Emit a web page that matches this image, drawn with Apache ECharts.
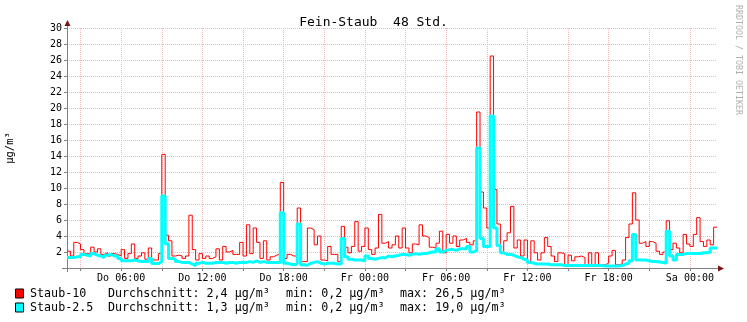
<!DOCTYPE html>
<html><head><meta charset="utf-8">
<script src="https://cdn.jsdelivr.net/npm/echarts@6/dist/echarts.min.js"></script>
<style>html,body{margin:0;padding:0;background:#fff}#c{width:747px;height:322px}</style>
</head><body><div id="c"></div>
<script>
// time axis: Do 02:00 .. Sa 02:00, 15 minute steps
const startHour = 2;
const stepMinutes = 15;
const dayNames = ['Do', 'Fr', 'Sa'];
const tickLabels = ['Do 06:00','Do 12:00','Do 18:00','Fr 00:00','Fr 06:00','Fr 12:00','Fr 18:00','Sa 00:00'];

// Staub-10 (µg/m³), one value per 15 minutes
const staub10 = [
  2.1,1.5,3.2,3.0,2.3,1.8,1.8,2.6,2.0,2.4,1.7,1.9,
  1.5,1.8,1.7,1.5,2.3,1.2,1.8,3.0,1.2,1.5,1.9,1.1,
  2.5,1.0,1.0,1.8,14.2,4.1,3.4,1.5,1.6,1.5,1.2,1.5,
  6.6,2.3,1.0,1.8,1.2,1.5,1.2,1.4,2.4,1.0,2.7,2.0,
  2.2,1.7,1.7,3.2,1.5,5.4,1.8,5.0,3.2,1.2,3.4,1.0,
  1.4,1.6,1.8,10.7,1.2,1.7,1.5,1.5,7.5,0.8,0.8,5.0,
  4.8,2.9,4.0,1.0,0.9,2.7,1.7,1.7,0.8,5.2,2.6,1.9,
  2.7,5.8,2.1,2.7,5.0,2.3,1.7,2.5,6.7,3.1,3.3,2.5,
  2.9,4.0,2.5,5.0,2.5,1.9,3.0,2.9,5.4,4.0,3.8,2.6,
  2.5,3.1,4.6,1.9,4.2,3.1,4.0,2.7,3.5,3.7,3.2,2.9,
  3.4,19.5,9.5,7.5,5.0,26.5,9.8,5.5,1.9,3.4,4.4,7.7,
  2.5,3.5,1.5,3.5,0.7,3.4,1.9,1.0,1.9,3.8,2.7,1.5,
  0.8,1.9,1.8,0.4,1.6,0.9,1.4,1.5,1.3,0.4,1.9,0.4,
  1.9,0.4,0.4,0.6,1.5,2.2,0.4,0.5,1.0,3.8,5.5,9.4,
  6.0,3.1,3.3,2.7,3.3,3.1,2.1,1.7,2.0,5.9,2.3,3.1,
  2.5,1.9,4.2,3.0,2.7,4.2,6.3,3.3,2.7,3.5,2.9,5.1,
  5.1
];
// Staub-2.5 (µg/m³)
const staub25 = [
  1.3,1.3,1.4,1.4,1.7,1.6,1.5,1.8,1.6,1.5,1.3,1.6,
  1.7,1.5,1.5,1.2,0.9,0.9,0.9,1.0,0.9,0.8,0.8,0.8,
  1.2,0.55,0.55,0.8,9.0,3.0,1.2,1.1,0.8,0.7,0.7,0.7,
  0.5,0.3,0.6,0.7,0.6,0.6,0.6,0.7,0.7,0.7,0.6,0.7,
  0.7,0.6,0.7,0.7,0.7,0.8,0.7,0.9,0.7,0.8,0.7,0.7,
  0.7,0.7,0.7,6.9,0.6,0.5,0.4,0.5,5.5,0.4,0.35,0.6,
  0.7,0.8,0.6,0.5,0.6,0.6,0.6,0.5,0.5,3.7,1.4,1.1,
  1.0,1.0,1.0,0.9,1.5,1.2,1.1,1.2,1.3,1.25,1.5,1.4,
  1.5,1.6,1.7,1.7,1.6,1.7,1.8,1.7,1.8,1.8,1.9,2.0,
  2.0,2.4,2.0,2.2,2.3,2.3,2.2,2.4,2.4,2.4,2.7,2.0,
  2.2,15.0,3.7,2.7,2.7,19.0,5.0,2.8,1.9,1.7,1.7,1.6,
  1.4,1.3,1.1,1.0,0.7,0.6,0.5,0.5,0.5,0.5,0.4,0.4,
  0.4,0.4,0.3,0.3,0.3,0.3,0.3,0.3,0.3,0.3,0.3,0.3,
  0.3,0.3,0.25,0.25,0.25,0.25,0.25,0.3,0.5,0.6,0.9,4.2,
  1.0,1.0,1.0,0.9,0.8,0.8,0.75,0.7,0.6,4.6,1.5,1.0,
  1.7,1.7,1.8,1.8,1.8,1.8,1.8,1.9,1.9,2.0,2.5,2.5,
  2.5
];

const legendNames = ['Staub-10', 'Staub-2.5'];
const legendColors = ['#ff0000', '#00ffff'];
const avgText = ['2,4', '1,3'];
const minText = ['0,2', '0,2'];
const maxText = ['26,5', '19,0'];

const categories = staub10.map((_, i) => {
  const m = startHour * 60 + i * stepMinutes;
  const d = Math.floor(m / 1440);
  const hh = Math.floor((m % 1440) / 60), mm = m % 60;
  return dayNames[d] + ' ' + String(hh).padStart(2, '0') + ':' + String(mm).padStart(2, '0');
});
const isGridTime = (idx) => {
  const m = startHour * 60 + idx * stepMinutes;
  return m % 180 === 0;
};

const MONO = '"DejaVu Sans Mono", monospace';
const gridColor = '#f5b3b3';
const axisColor = '#808080';
const arrowColor = '#7a1515';

const graphic = [];
legendNames.forEach((name, k) => {
  const yc = 293.5 + k * 14;
  graphic.push({ type: 'rect', shape: { x: 15.5, y: yc - 4.5, width: 8, height: 9 },
    style: { fill: legendColors[k], stroke: '#000', lineWidth: 1 } });
  const parts = [
    [30, name],
    [108, 'Durchschnitt: ' + avgText[k] + ' µg/m³'],
    [286, 'min: ' + minText[k] + ' µg/m³'],
    [400, 'max: ' + maxText[k] + ' µg/m³']
  ];
  parts.forEach(([x, t]) => graphic.push({ type: 'text', x: x, y: yc,
    style: { text: t, fill: '#000', fontSize: 11.7, fontFamily: MONO, align: 'left', verticalAlign: 'middle' } }));
});
graphic.push({ type: 'text', x: 738, y: 5, rotation: -Math.PI / 2,
  style: { text: 'RRDTOOL / TOBI OETIKER', fill: '#b0b0b0', fontSize: 8.3, fontFamily: MONO, align: 'left', verticalAlign: 'middle' } });
// axis extensions and arrows (decoration)
graphic.push({ type: 'line', shape: { x1: 67.5, y1: 28, x2: 67.5, y2: 24 }, style: { stroke: axisColor, lineWidth: 1 } });
graphic.push({ type: 'line', shape: { x1: 67.5, y1: 268, x2: 67.5, y2: 272 }, style: { stroke: axisColor, lineWidth: 1 } });
graphic.push({ type: 'line', shape: { x1: 62, y1: 268.5, x2: 67, y2: 268.5 }, style: { stroke: axisColor, lineWidth: 1 } });
graphic.push({ type: 'line', shape: { x1: 717, y1: 268.5, x2: 720, y2: 268.5 }, style: { stroke: axisColor, lineWidth: 1 } });
graphic.push({ type: 'polygon', shape: { points: [[64.5, 26], [70.5, 26], [67.5, 20]] }, style: { fill: arrowColor } });
graphic.push({ type: 'polygon', shape: { points: [[718, 265.5], [718, 271.5], [724, 268.5]] }, style: { fill: arrowColor } });

const chart = echarts.init(document.getElementById('c'), null, { renderer: 'canvas' });
chart.setOption({
  backgroundColor: '#ffffff',
  animation: false,
  title: {
    text: 'Fein-Staub  48 Std.', left: 'center', top: 11,
    textStyle: { fontFamily: MONO, fontSize: 13, fontWeight: 'normal', color: '#000' }
  },
  grid: { left: 67, right: 30, top: 28, bottom: 54, containLabel: false, outerBoundsMode: 'none' },
  xAxis: {
    type: 'category', data: categories, boundaryGap: false,
    axisLine: { show: true, lineStyle: { color: axisColor, width: 1 } },
    axisTick: { show: true, length: 3, interval: (idx) => isGridTime(idx), lineStyle: { color: axisColor } },
    axisLabel: { interval: (idx, val) => tickLabels.includes(val), margin: 5,
      fontFamily: MONO, fontSize: 10, color: '#000' },
    splitLine: { show: true, interval: (idx) => isGridTime(idx) && idx > 0,
      lineStyle: { color: gridColor, type: [1, 1], width: 1 } }
  },
  yAxis: {
    type: 'value', min: 0, max: 30, interval: 2,
    name: 'µg/m³', nameLocation: 'middle', nameGap: 51, nameRotate: 90,
    nameTextStyle: { fontFamily: MONO, fontSize: 10.5, color: '#000' },
    axisLine: { show: true, lineStyle: { color: axisColor, width: 1 } },
    axisTick: { show: true, length: 3, lineStyle: { color: axisColor } },
    axisLabel: { margin: 5, fontFamily: MONO, fontSize: 10, color: '#000',
      formatter: (v) => (v === 0 ? '' : String(v)) },
    splitLine: { show: true, lineStyle: { color: gridColor, type: [1, 1], width: 1 } }
  },
  series: [
    { name: legendNames[0], type: 'line', data: staub10, step: 'end', symbol: 'none',
      lineStyle: { color: legendColors[0], width: 1 }, z: 3 },
    { name: legendNames[1], type: 'line', data: staub25, step: 'end', symbol: 'none',
      lineStyle: { color: legendColors[1], width: 3 }, z: 4 }
  ],
  graphic: graphic
});
</script></body></html>
